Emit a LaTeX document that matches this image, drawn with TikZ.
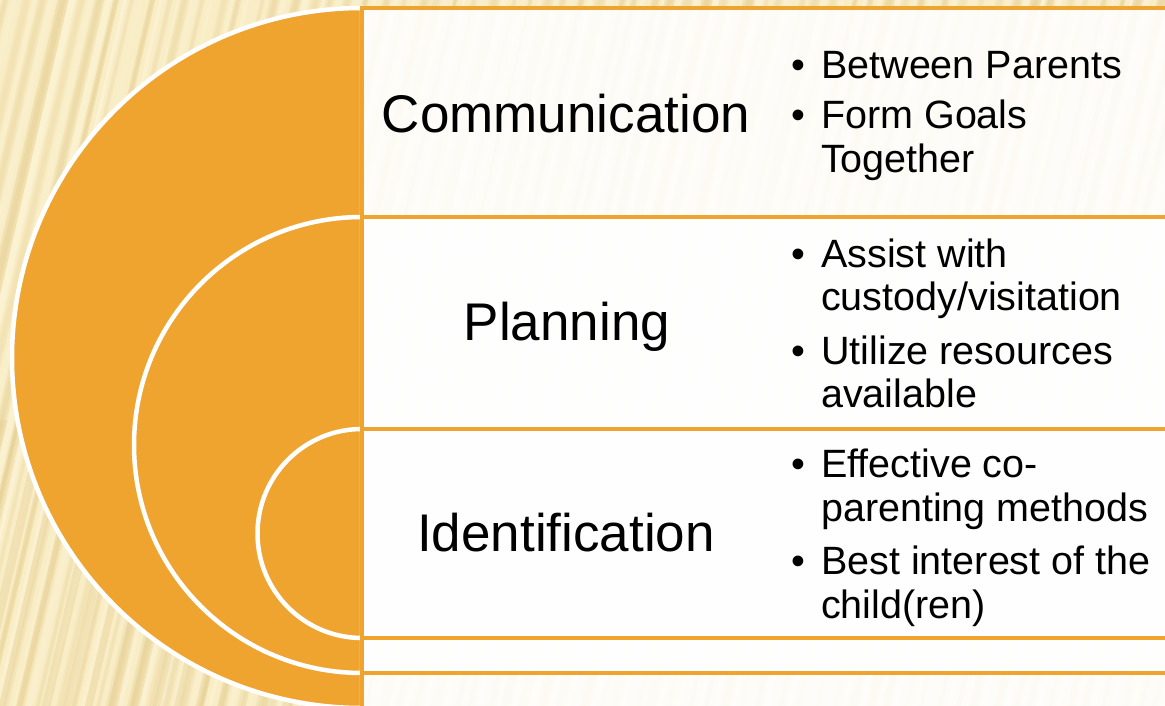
\documentclass[tikz,border=0pt]{standalone}
\usepackage{fontspec}
\setmainfont{Liberation Sans}
\definecolor{org}{HTML}{EFA430}
\definecolor{bgc}{HTML}{F9EDC6}
\definecolor{strp}{HTML}{E4CD8F}
\definecolor{strl}{HTML}{FDF6DC}
\begin{document}
\begin{tikzpicture}[x=1pt,y=-1pt,
  semi/.style={fill=org, draw=white, line width=4.5pt},
  layer/.style={fill=white, fill opacity=0.88, draw=org, draw opacity=1, line width=4pt},
  title/.style={font=\fontsize{53}{60}\selectfont, anchor=base, inner sep=0pt},
  item/.style={font=\fontsize{39.5}{44}\selectfont, anchor=base west, inner sep=0pt},
  bul/.style={font=\fontsize{39.5}{44}\selectfont, anchor=base, inner sep=0pt}]
\useasboundingbox (0,0) rectangle (1165,706);
\clip (0,0) rectangle (1165,706);
% background with soft stripes
\fill[bgc] (0,0) rectangle (1165,706);
\pgfmathsetseed{11}
\foreach \i in {0,...,75}{
  \pgfmathsetmacro{\xx}{-200+\i*18+rnd*8}
  \pgfmathsetmacro{\ww}{4+rnd*8}
  \pgfmathsetmacro{\oo}{0.12+rnd*0.3}
  \draw[strp, line width=\ww pt, opacity=\oo] (\xx,720) -- (\xx+170,-10);
  \draw[strp, line width=\ww pt*0.5, opacity=\oo] (\xx,720) -- (\xx+170,-10);
  \draw[strl, line width=\ww pt*0.6, opacity=\oo*1.5] (\xx+9,720) -- (\xx+179,-10);
}
% darker stripes toward the lower left
\begin{scope}
\clip (0,420) rectangle (360,706);
\pgfmathsetseed{3}
\foreach \i in {0,...,22}{
  \pgfmathsetmacro{\xx}{-160+\i*22+rnd*6}
  \pgfmathsetmacro{\ww}{3+rnd*6}
  \draw[strp, line width=\ww pt, opacity=0.35] (\xx,720) -- (\xx+170,-10);
}
\end{scope}
% nested semicircles
\path[semi] (362,8) arc[start angle=270, end angle=90, radius=350] -- cycle;
\path[semi] (362,217) arc[start angle=270, end angle=90, radius=228] -- cycle;
\path[semi] (362,429) arc[start angle=270, end angle=90, radius=104.5] -- cycle;
% layer rectangles
\path[layer] (362,8) rectangle (1180,712);
\path[layer] (362,217) rectangle (1180,673);
\path[layer] (362,429) rectangle (1180,638);
% titles
\node[title] (t1) at (566,133) {Communication};
\node[title] (t2) at (567,340) {Planning};
\node[title] (t3) at (566,551) {Identification};
% bullets box 1
\node[bul] (b11) at (798,79) {•};
\node[item] (i11) at (821,79) {Between Parents};
\node[bul] (b12) at (798,129) {•};
\node[item] (i12) at (821,129) {Form Goals};
\node[item] (i12b) at (821,173) {Together};
% bullets box 2
\node[bul] (b21) at (798,267) {•};
\node[item] (i21) at (821,267) {Assist with};
\node[item] (i21b) at (821,310) {custody/visitation};
\node[bul] (b22) at (798,364) {•};
\node[item] (i22) at (821,364) {Utilize resources};
\node[item] (i22b) at (821,407) {available};
% bullets box 3
\node[bul] (b31) at (798,477) {•};
\node[item] (i31) at (821,477) {Effective co-};
\node[item] (i31b) at (821,521) {parenting methods};
\node[bul] (b32) at (798,574) {•};
\node[item] (i32) at (821,574) {Best interest of the};
\node[item] (i32b) at (821,618) {child(ren)};
\end{tikzpicture}
\end{document}
